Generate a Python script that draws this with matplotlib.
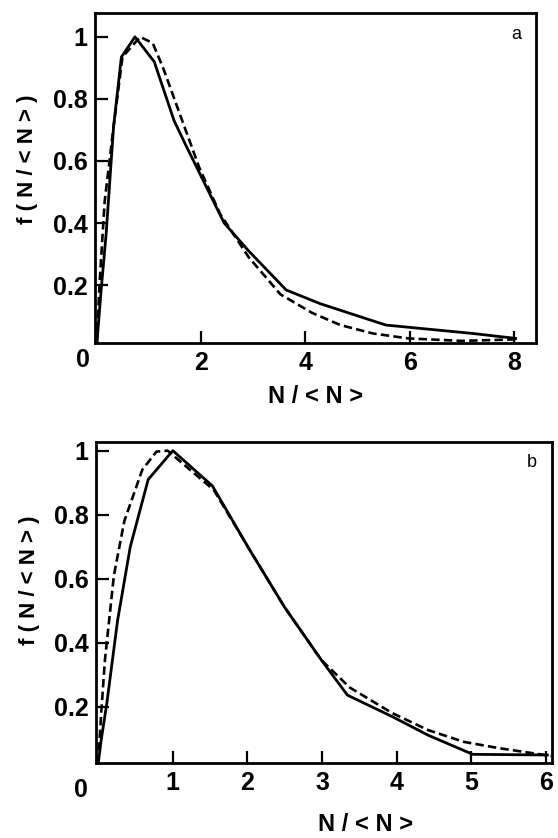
import matplotlib
matplotlib.use("Agg")
import matplotlib.pyplot as plt

plt.rcParams['font.family'] = ['Liberation Sans', 'DejaVu Sans']

# panel a
xa_solid = [0.0, 0.08, 0.18, 0.32, 0.47, 0.73, 1.10, 1.48, 1.69, 2.44, 2.91, 3.63, 4.28, 5.54, 7.2, 8.03]
ya_solid = [0.012, 0.18, 0.37, 0.71, 0.935, 1.0, 0.92, 0.73, 0.656, 0.40, 0.31, 0.184, 0.14, 0.071, 0.044, 0.028]
xa_dash = [0.0, 0.05, 0.15, 0.32, 0.49, 0.83, 1.07, 1.27, 1.55, 1.96, 2.36, 2.91, 3.52, 4.13, 4.67, 5.29, 5.97, 7.0, 8.08]
ya_dash = [0.012, 0.2, 0.47, 0.71, 0.935, 1.0, 0.98, 0.90, 0.77, 0.58, 0.43, 0.29, 0.17, 0.11, 0.071, 0.044, 0.028, 0.02, 0.025]

# panel b
xb_solid = [0.0, 0.04, 0.115, 0.26, 0.43, 0.67, 1.0, 1.53, 2.03, 2.5, 2.99, 3.34, 3.94, 4.42, 5.02, 6.02]
yb_solid = [0.023, 0.096, 0.21, 0.47, 0.70, 0.91, 1.0, 0.89, 0.69, 0.51, 0.346, 0.236, 0.169, 0.111, 0.051, 0.049]
xb_dash = [0.0, 0.04, 0.09, 0.21, 0.35, 0.59, 0.78, 0.93, 1.55, 2.03, 2.5, 2.99, 3.37, 3.94, 4.42, 4.9, 5.38, 6.07]
yb_dash = [0.023, 0.18, 0.346, 0.61, 0.78, 0.94, 0.997, 1.0, 0.877, 0.69, 0.51, 0.346, 0.26, 0.18, 0.127, 0.09, 0.07, 0.046]

yticks = [0.2, 0.4, 0.6, 0.8, 1.0]
ytick_labels = ["0.2", "0.4", "0.6", "0.8", "1"]
xticks_a = [2, 4, 6, 8]
xticks_b = [1, 2, 3, 4, 5, 6]

fig = plt.figure(figsize=(5.58, 8.38), dpi=100)

#    rect, solid, dashed, xlim, ylim, xticks, tag, xlabel pos, ylabel pos, origin "0" pos
panels = [
    ([0.1708, 0.591, 0.7898, 0.3935], xa_solid, ya_solid, xa_dash, ya_dash,
     (-0.03, 8.42), (0.014, 1.077), xticks_a, "a", (0.5, -0.162), (-0.154, 0.557), (0.1487, 0.5704)),
    ([0.172, 0.0899, 0.817, 0.383], xb_solid, yb_solid, xb_dash, yb_dash,
     (-0.03, 6.08), (0.025, 1.028), xticks_b, "b", (0.592, -0.194), (-0.145, 0.569), (0.145, 0.0573)),
]

for rect, xs, ys, xd, yd, xl, yl, xt, tag, xlp, ylp, zp in panels:
    ax = fig.add_axes(rect)
    ax.plot(xs, ys, color="black", lw=2.0)
    ax.plot(xd, yd, color="black", lw=1.9, linestyle=(0, (3.2, 1.6)))
    ax.set_xlim(*xl)
    ax.set_ylim(*yl)
    ax.set_xticks(xt)
    ax.set_xticklabels([str(v) for v in xt], fontsize=18, fontweight="bold")
    ax.set_yticks(yticks)
    ax.set_yticklabels(ytick_labels, fontsize=18, fontweight="bold")
    ax.tick_params(axis="x", direction="in", length=9, width=1.6, pad=6)
    ax.tick_params(axis="y", direction="in", length=9, width=1.6, pad=5.5)
    for s in ax.spines.values():
        s.set_linewidth(2.0)
    fig.text(zp[0], zp[1], "0", fontsize=18, fontweight="bold", ha="center", va="center")
    ax.text(0.955, 0.935, tag, transform=ax.transAxes, fontsize=13,
            ha="center", va="center")
    ax.set_xlabel("N / < N >", fontsize=17, fontweight="bold")
    ax.xaxis.set_label_coords(*xlp)
    ax.xaxis.label.set_va("center")
    ax.set_ylabel("f ( N / < N > )", fontsize=16, fontweight="bold")
    ax.yaxis.set_label_coords(*ylp)
    ax.yaxis.label.set_va("center")

fig.savefig("out.png", dpi=100)
